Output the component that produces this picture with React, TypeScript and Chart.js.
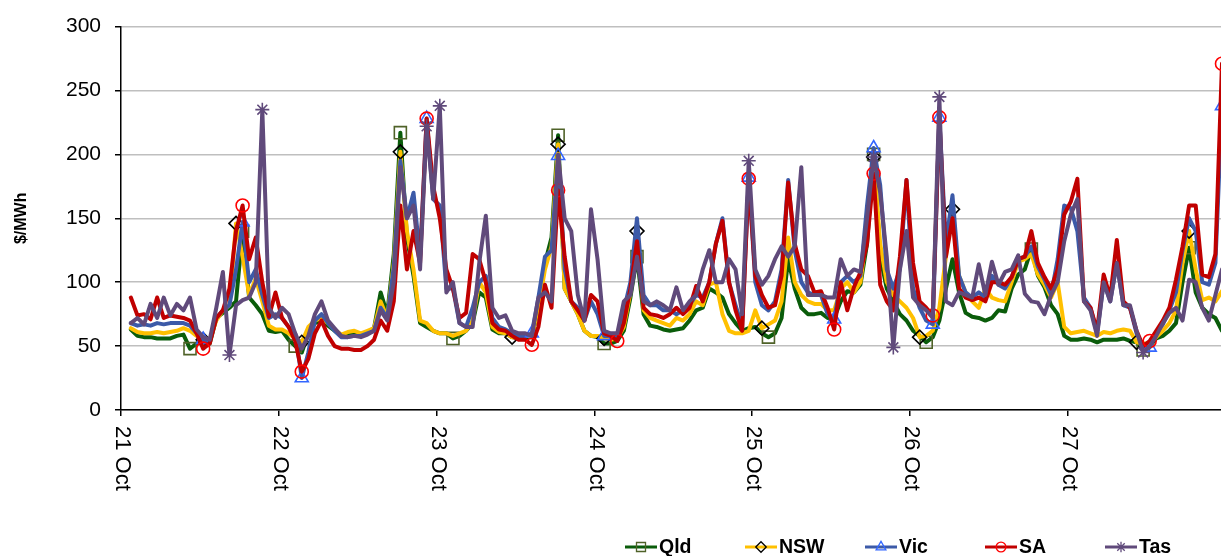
import React, { useEffect, useRef } from 'react';
import { Chart, registerables } from 'chart.js';
import { drawPoint } from 'chart.js/helpers';

Chart.register(...registerables);

const dayLabels = ['21 Oct', '22 Oct', '23 Oct', '24 Oct', '25 Oct', '26 Oct', '27 Oct'];
const dayTicks = [0, 24, 48, 72, 96, 120, 144];
const yTicks = [0, 50, 100, 150, 200, 250, 300];
const firstHour = 1.5; // hourly samples start at 01:30 on 21 Oct

// $/MWh, hourly
const qld = [
  63, 58, 57, 57, 56, 56, 56, 58, 59, 48, 52, 53, 52, 72, 76, 80, 85, 140, 88, 82, 75, 62, 61,
  62, 55, 50, 45, 60, 68, 70, 66, 62, 58, 59, 59, 59, 61, 64, 92, 75, 122, 217, 135, 105, 68, 65, 62,
  60, 60, 56, 58, 62, 68, 92, 88, 63, 60, 60, 57, 56, 57, 57, 80, 115, 135, 215, 95, 85, 75, 62, 58,
  57, 52, 52, 54, 62, 88, 120, 75, 66, 65, 63, 62, 63, 64, 70, 78, 80, 95, 92, 88, 75, 68, 62, 64,
  65, 60, 57, 60, 72, 118, 95, 80, 75, 75, 76, 72, 72, 85, 93, 92, 98, 130, 200, 120, 95, 85, 75, 70,
  62, 58, 53, 57, 70, 95, 118, 92, 76, 73, 72, 70, 72, 78, 77, 95, 106, 110, 126, 105, 96, 82, 75, 58,
  55, 55, 56, 55, 53, 55, 55, 55, 56, 54, 53, 47, 50, 56, 58, 62, 68, 100, 127, 92, 80, 75, 72, 62,
];
const nsw = [
  64, 61, 60, 60, 61, 60, 61, 62, 64, 62, 58, 55, 55, 70, 78, 82, 146, 120, 90, 103, 85, 66, 63,
  63, 60, 56, 53, 65, 70, 72, 68, 63, 59, 61, 62, 60, 62, 64, 85, 72, 115, 202, 140, 110, 70, 68, 62,
  60, 60, 58, 60, 62, 70, 100, 92, 65, 61, 60, 57, 57, 58, 58, 80, 110, 128, 208, 95, 85, 75, 62, 58,
  58, 56, 55, 56, 65, 92, 140, 78, 72, 70, 68, 66, 72, 70, 75, 85, 82, 98, 100, 75, 62, 60, 60, 62,
  78, 64, 67, 70, 85, 135, 100, 90, 85, 83, 83, 78, 78, 95, 100, 92, 100, 140, 198, 130, 100, 90, 85, 80,
  72, 57, 58, 62, 80, 120, 157, 105, 92, 85, 80, 95, 88, 86, 85, 100, 116, 118, 122, 106, 98, 88, 100, 65,
  60, 61, 62, 60, 58, 61, 60, 62, 63, 62, 53, 52, 52, 57, 62, 68, 78, 115, 140, 110, 86, 88, 85, 93,
];
const vic = [
  68, 66, 67, 66, 68, 67, 68, 68, 68, 66, 60, 55, 54, 72, 78, 82, 110, 147, 100, 110, 90, 72, 75,
  72, 65, 60, 25, 45, 70, 75, 68, 62, 57, 57, 58, 58, 60, 62, 80, 72, 112, 195, 150, 170, 120, 228, 165,
  160, 95, 95, 68, 65, 80, 100, 105, 72, 65, 63, 60, 58, 58, 60, 88, 120, 125, 199, 110, 85, 80, 70, 85,
  75, 58, 58, 57, 78, 100, 150, 90, 82, 82, 78, 78, 75, 78, 82, 90, 88, 100, 130, 150, 100, 82, 65, 182,
  100, 82, 78, 85, 110, 180, 125, 100, 92, 90, 90, 75, 71, 100, 105, 100, 105, 160, 205, 176, 110, 95, 110, 180,
  95, 80, 70, 67, 229, 130, 168, 105, 92, 88, 92, 88, 105, 98, 95, 104, 118, 120, 128, 112, 102, 90, 118, 160,
  158, 140, 88, 80, 60, 100, 85, 115, 82, 80, 60, 50, 49, 60, 67, 78, 92, 125, 150, 140, 100, 98, 115, 238,
];
const sa = [
  88, 74, 75, 71, 88, 72, 74, 73, 72, 70, 60, 48, 52, 72, 78, 95, 140, 160, 118, 135, 100, 73, 92,
  72, 65, 54, 30, 40, 60, 70, 58, 50, 48, 48, 47, 47, 50, 55, 70, 62, 85, 160, 110, 140, 115, 228, 175,
  150, 110, 95, 72, 76, 122, 118, 100, 68, 63, 62, 58, 55, 55, 51, 65, 98, 80, 172, 120, 85, 78, 70, 90,
  85, 60, 58, 54, 68, 95, 132, 80, 75, 74, 72, 75, 80, 75, 80, 97, 85, 100, 130, 148, 100, 78, 62, 181,
  105, 90, 80, 82, 105, 178, 130, 110, 105, 92, 93, 80, 63, 100, 78, 96, 108, 130, 185, 98, 85, 78, 120, 180,
  115, 85, 80, 74, 229, 120, 150, 95, 88, 86, 88, 85, 100, 100, 98, 104, 118, 120, 140, 115, 104, 95, 110, 153,
  163, 181, 85, 80, 62, 106, 88, 133, 85, 80, 62, 50, 54, 62, 70, 80, 102, 128, 160, 160, 106, 104, 122, 271,
];
const tas = [
  68, 72, 67, 83, 72, 88, 74, 83, 78, 88, 63, 57, 55, 80, 108, 43, 82, 86, 88, 100, 235, 80, 72,
  80, 75, 60, 48, 58, 75, 85, 70, 64, 58, 57, 58, 57, 59, 62, 78, 70, 100, 190, 150, 160, 110, 222, 165,
  238, 92, 100, 68, 65, 65, 115, 152, 80, 72, 74, 62, 60, 60, 58, 88, 92, 85, 200, 150, 140, 90, 70, 157,
  118, 62, 60, 60, 85, 90, 120, 85, 82, 85, 82, 78, 96, 78, 85, 90, 110, 125, 100, 100, 118, 110, 75, 195,
  110, 98, 105, 118, 128, 120, 128, 190, 90, 90, 90, 88, 88, 118, 105, 110, 108, 150, 198, 170, 120, 49, 110, 140,
  88, 82, 78, 72, 245, 85, 82, 92, 90, 88, 114, 90, 116, 98, 108, 110, 121, 91, 85, 84, 75, 90, 100, 132,
  153, 165, 85, 78, 58, 100, 85, 115, 82, 82, 62, 45, 50, 58, 68, 76, 80, 70, 102, 100, 80, 70, 90, 110,
];

// indices of samples that carry a marker
const qldMarkers = [9, 17, 25, 41, 49, 65, 72, 77, 97, 113, 121, 137, 154, 161];
const nswMarkers = [11, 16, 26, 41, 58, 65, 72, 77, 96, 113, 120, 125, 153, 161];
const vicMarkers = [11, 17, 26, 45, 61, 65, 72, 94, 107, 113, 122, 123, 155, 166];
const saMarkers = [11, 17, 26, 45, 61, 65, 74, 94, 107, 113, 122, 123, 155, 166];
const tasMarkers = [15, 20, 45, 47, 94, 113, 116, 123, 154];

const seriesNames = ['Qld', 'NSW', 'Vic', 'SA', 'Tas'];

const FONT = '"Liberation Sans", Arial, Helvetica, sans-serif';

type Style = { line: string; mark: string; style: string; radius: number };
const styles: Style[] = [
  { line: '#0a5c0a', mark: '#4f6228', style: 'rect', radius: 8.5 },
  { line: '#ffc000', mark: '#000000', style: 'rectRot', radius: 7 },
  { line: '#3c5aa8', mark: '#3366ff', style: 'triangle', radius: 7.5 },
  { line: '#c00000', mark: '#ff0000', style: 'circle', radius: 6.5 },
  { line: '#604a7b', mark: '#604a7b', style: 'star', radius: 7 },
];

const toPoints = (vals: number[]) => vals.map((v, i) => ({ x: firstHour + i, y: v }));

const dayLabelPlugin = {
  id: 'dayLabels',
  afterDraw(chart: any) {
    const ctx = chart.ctx;
    const xs = chart.scales.x;
    ctx.save();
    ctx.font = `22px ${FONT}`;
    ctx.fillStyle = '#000';
    ctx.textAlign = 'left';
    ctx.textBaseline = 'middle';
    dayTicks.forEach((v, i) => {
      const px = xs.getPixelForValue(v);
      ctx.save();
      ctx.translate(px + 1.5, xs.top + 16);
      ctx.rotate(Math.PI / 2);
      ctx.fillText(dayLabels[i], 0, 0);
      ctx.restore();
    });
    ctx.restore();
  },
};

const legendPlugin = {
  id: 'lineLegend',
  afterDraw(chart: any) {
    const ctx = chart.ctx;
    ctx.save();
    ctx.font = `bold 19.5px ${FONT}`;
    ctx.textBaseline = 'middle';
    ctx.textAlign = 'left';
    const y = 547;
    const start = 625;
    const entryWidth = 120;
    seriesNames.forEach((name, i) => {
      const s = styles[i];
      const x = start + i * entryWidth;
      ctx.strokeStyle = s.line;
      ctx.lineWidth = 3;
      ctx.beginPath();
      ctx.moveTo(x, y);
      ctx.lineTo(x + 32, y);
      ctx.stroke();
      ctx.strokeStyle = s.mark;
      ctx.fillStyle = 'rgba(0,0,0,0)';
      ctx.lineWidth = 1.3;
      drawPoint(ctx, { pointStyle: s.style as any, radius: s.radius * 0.75, rotation: 0, borderWidth: 1.3 }, x + 16, y);
      ctx.fillStyle = '#000';
      ctx.fillText(name, x + 34, y + 1);
    });
    ctx.restore();
  },
};

export default function App() {
  const ref = useRef<HTMLCanvasElement>(null);

  useEffect(() => {
    if (!ref.current) return;
    const all = [qld, nsw, vic, sa, tas];
    const marks = [qldMarkers, nswMarkers, vicMarkers, saMarkers, tasMarkers];
    const chart = new Chart(ref.current, {
      type: 'line',
      data: {
        datasets: all.map((vals, i) => ({
          label: seriesNames[i],
          data: toPoints(vals),
          borderColor: styles[i].line,
          backgroundColor: styles[i].line,
          borderWidth: 4,
          borderJoinStyle: 'round' as const,
          borderCapStyle: 'round' as const,
          tension: 0,
          fill: false,
          order: 4 - i,
          pointStyle: styles[i].style as any,
          pointRadius: (c: any) => (marks[i].includes(c.dataIndex) ? styles[i].radius : 0),
          pointHoverRadius: 0,
          pointBorderColor: styles[i].mark,
          pointBackgroundColor: 'rgba(0,0,0,0)',
          pointBorderWidth: 1.6,
        })),
      },
      options: {
        animation: false,
        responsive: false,
        events: [],
        layout: { autoPadding: false, padding: { top: 23, right: 0, bottom: 0, left: 0 } },
        plugins: {
          legend: { display: false },
          tooltip: { enabled: false },
        },
        scales: {
          x: {
            type: 'linear',
            min: 0,
            max: 167.35,
            afterBuildTicks: (scale: any) => {
              scale.ticks = dayTicks.map((v) => ({ value: v }));
            },
            afterFit: (scale: any) => {
              scale.height = 146;
            },
            ticks: { callback: () => '', maxRotation: 0, font: { size: 1 } },
            grid: { drawOnChartArea: false, drawTicks: true, tickLength: 6, tickColor: '#000', color: '#000', lineWidth: 1.5 },
            border: { display: true, color: '#000', width: 1.5 },
          },
          y: {
            min: 0,
            max: 300,
            afterBuildTicks: (scale: any) => {
              scale.ticks = yTicks.map((v) => ({ value: v }));
            },
            afterFit: (scale: any) => {
              scale.width = 121;
            },
            ticks: { color: '#000', font: { family: FONT, size: 21 }, padding: 14 },
            grid: { color: '#bfbfbf', lineWidth: 1.5, tickColor: '#000', tickLength: 6, drawTicks: true },
            border: { display: true, color: '#000', width: 1.5 },
            title: {
              display: true,
              text: '$/MWh',
              color: '#000',
              font: { family: FONT, size: 16, weight: 'bold' },
              padding: { top: 12, bottom: 0 },
            },
          },
        },
      },
      plugins: [dayLabelPlugin, legendPlugin],
    });
    return () => chart.destroy();
  }, []);

  return (
    <div style={{ position: 'absolute', left: 0, top: 0, width: 1221, height: 556, background: '#fff' }}>
      <canvas ref={ref} width={1221} height={556} style={{ display: 'block' }} />
    </div>
  );
}
